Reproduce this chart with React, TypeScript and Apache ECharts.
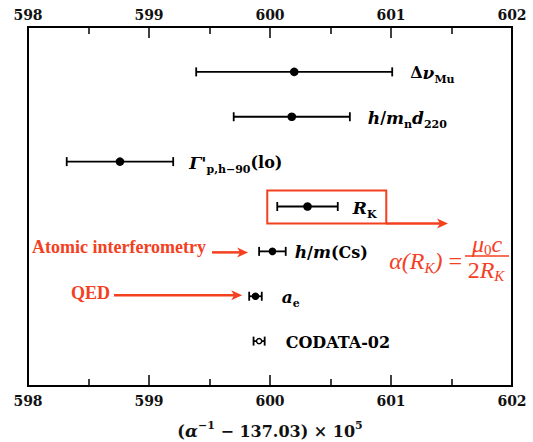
import React, { useEffect, useRef } from 'react';
import * as echarts from 'echarts';

// Determinations of the fine-structure constant, (α⁻¹ − 137.03) × 10⁵
const categories = ['Δν_Mu', 'h/m_n d220', "Γ'p,h-90(lo)", 'R_K', 'h/m(Cs)', 'a_e', 'CODATA-02'];
const centers = [600.2, 600.18, 598.76, 600.31, 600.02, 599.88, 599.91];
const uncertainties = [0.81, 0.48, 0.44, 0.25, 0.11, 0.052, 0.046];
const xTickValues = [598, 599, 600, 601, 602];

// Rich-text forms of the category labels
const labelTexts = [
  '{up|Δ}{it|ν}{sub|Mu}',
  '{it|h}{up|/}{it|m}{sub|n}{it|d}{sub|220}',
  "{it|Γ'}{sub|p,h−90}{up|(lo)}",
  '{it|R}{sub|K}',
  '{it|h}{up|/}{it|m}{up|(Cs)}',
  '{it|a}{sub|e}',
  '{up|CODATA-02}',
];

const RED = '#f4401f';
const SERIF = '"DejaVu Serif", serif';
const TIMES = '"Liberation Serif", serif';

const labelRich = {
  up: { fontFamily: SERIF, fontWeight: 'bold', fontSize: 16, lineHeight: 24, fill: '#000', color: '#000' },
  it: { fontFamily: SERIF, fontWeight: 'bold', fontStyle: 'italic', fontSize: 17, lineHeight: 24, fill: '#000', color: '#000' },
  sub: { fontFamily: SERIF, fontWeight: 'bold', fontSize: 11, lineHeight: 11, verticalAlign: 'bottom', fill: '#000', color: '#000' },
};

// gap between an error bar's right cap and its label
const labelGap = [18, 18, 16, 15, 9, 20, 21];

function arrow(x1: number, x2: number, y: number) {
  return {
    type: 'group',
    children: [
      { type: 'line', shape: { x1, y1: y, x2: x2 - 6, y2: y }, style: { stroke: RED, lineWidth: 2.5 } },
      {
        type: 'polygon',
        shape: { points: [[x2 - 11, y - 5], [x2, y], [x2 - 11, y + 5], [x2 - 8, y]] },
        style: { fill: RED },
      },
    ],
  };
}

export default function App() {
  const ref = useRef<HTMLDivElement>(null);

  useEffect(() => {
    document.body.style.margin = '0';
    const chart = echarts.init(ref.current!, null, { renderer: 'svg' });

    const data = categories.map((name, i) => [
      centers[i],
      i + 1,
      centers[i] - uncertainties[i],
      centers[i] + uncertainties[i],
      i,
    ]);

    const axisCommon = {
      type: 'value',
      min: xTickValues[0],
      max: xTickValues[xTickValues.length - 1],
      interval: 1,
      splitLine: { show: false },
      axisLine: { show: true, onZero: false, lineStyle: { color: '#000', width: 2 } },
      axisTick: { show: true, inside: true, length: 11, lineStyle: { color: '#000', width: 1.5 } },
      minorTick: { show: true, splitNumber: 2, length: 7, lineStyle: { color: '#000', width: 1.5 } },
      axisLabel: {
        fontFamily: SERIF,
        fontWeight: 'bold',
        fontSize: 14,
        color: '#111',
      },
    };

    chart.setOption({
      animation: false,
      backgroundColor: '#fff',
      grid: {
        left: 28,
        right: 21,
        top: 27,
        bottom: 56,
        containLabel: false,
        outerBoundsMode: 'none',
        show: true,
        borderColor: '#000',
        borderWidth: 2,
      },
      xAxis: [
        {
          ...axisCommon,
          position: 'bottom',
          axisLabel: { ...axisCommon.axisLabel, margin: 8 },
          name: '{p|(}{a|α}{sup|−1}{p| − 137.03) × 10}{sup|5}',
          nameLocation: 'middle',
          nameGap: 34,
          nameTextStyle: {
            rich: {
              p: { fontFamily: SERIF, fontWeight: 'bold', fontSize: 16, lineHeight: 22, color: '#111' },
              a: { fontFamily: SERIF, fontWeight: 'bold', fontStyle: 'italic', fontSize: 17, lineHeight: 22, color: '#111' },
              sup: { fontFamily: SERIF, fontWeight: 'bold', fontSize: 11, lineHeight: 11, verticalAlign: 'top', color: '#111' },
            },
          },
        },
        {
          ...axisCommon,
          position: 'top',
          axisLabel: { ...axisCommon.axisLabel, margin: 5 },
        },
      ],
      yAxis: {
        type: 'value',
        min: 0,
        max: 8,
        inverse: true,
        show: false,
      },
      series: [
        {
          type: 'custom',
          xAxisIndex: 0,
          yAxisIndex: 0,
          data,
          renderItem: (params: any, api: any) => {
            const idx = api.value(4);
            const yv = api.value(1);
            const c = api.coord([api.value(0), yv]);
            const lo = api.coord([api.value(2), yv]);
            const hi = api.coord([api.value(3), yv]);
            const open = categories[idx] === 'CODATA-02';
            const r = uncertainties[idx] < 0.2 ? 3.8 : 4.3;
            return {
              type: 'group',
              children: [
                { type: 'line', shape: { x1: lo[0], y1: c[1], x2: hi[0], y2: c[1] }, style: { stroke: '#000', lineWidth: 1.8 } },
                { type: 'line', shape: { x1: lo[0], y1: c[1] - 4.5, x2: lo[0], y2: c[1] + 4.5 }, style: { stroke: '#000', lineWidth: 1.8 } },
                { type: 'line', shape: { x1: hi[0], y1: c[1] - 4.5, x2: hi[0], y2: c[1] + 4.5 }, style: { stroke: '#000', lineWidth: 1.8 } },
                {
                  type: 'circle',
                  shape: { cx: c[0], cy: c[1], r: open ? 2.6 : r },
                  style: open ? { fill: '#fff', stroke: '#000', lineWidth: 1.4 } : { fill: '#000' },
                },
                {
                  type: 'text',
                  x: hi[0] + labelGap[idx],
                  y: c[1] + 1,
                  style: {
                    text: labelTexts[idx],
                    rich: labelRich,
                    align: 'left',
                    verticalAlign: 'middle',
                    fill: '#000',
                  },
                },
              ],
            };
          },
        },
      ],
    });

    // Annotations: box around the R_K result and the red call-outs
    const rkLo = chart.convertToPixel({ xAxisIndex: 0, yAxisIndex: 0 }, [centers[3] - uncertainties[3], 4]) as number[];
    const csLo = chart.convertToPixel({ xAxisIndex: 0, yAxisIndex: 0 }, [centers[4] - uncertainties[4], 5]) as number[];
    const aeLo = chart.convertToPixel({ xAxisIndex: 0, yAxisIndex: 0 }, [centers[5] - uncertainties[5], 6]) as number[];
    const boxX = rkLo[0] - 10;
    const boxW = 119;
    const boxTop = rkLo[1] - 16;
    const boxH = 33;

    chart.setOption({
      graphic: [
        {
          type: 'rect',
          shape: { x: boxX, y: boxTop, width: boxW, height: boxH },
          style: { fill: 'none', stroke: RED, lineWidth: 2 },
        },
        arrow(boxX + boxW, 448, boxTop + boxH),
        {
          type: 'text',
          x: 32,
          y: csLo[1] - 4,
          style: {
            text: 'Atomic interferometry',
            fill: RED,
            font: `bold 18px ${TIMES}`,
            align: 'left',
            verticalAlign: 'middle',
          },
        },
        arrow(212, csLo[0] - 11, csLo[1] + 1),
        {
          type: 'text',
          x: 71,
          y: aeLo[1] - 3,
          style: {
            text: 'QED',
            fill: RED,
            font: `bold 18px ${TIMES}`,
            align: 'left',
            verticalAlign: 'middle',
          },
        },
        arrow(114, aeLo[0] - 7, aeLo[1] - 1),
        // α(R_K) = μ0 c / 2R_K
        {
          type: 'text',
          x: 462,
          y: 261,
          style: {
            text: '{i|α(R}{s|K}{i|)}{u| =}',
            align: 'right',
            verticalAlign: 'middle',
            fill: RED,
            rich: {
              i: { fontFamily: TIMES, fontStyle: 'italic', fontSize: 24, lineHeight: 28, fill: RED, color: RED },
              u: { fontFamily: TIMES, fontSize: 24, lineHeight: 28, fill: RED, color: RED },
              s: { fontFamily: TIMES, fontStyle: 'italic', fontSize: 15, lineHeight: 15, verticalAlign: 'bottom', fill: RED, color: RED },
            },
          },
        },
        {
          type: 'text',
          x: 487,
          y: 244,
          style: {
            text: '{i|μ}{s|0}{i|c}',
            align: 'center',
            verticalAlign: 'middle',
            fill: RED,
            rich: {
              i: { fontFamily: TIMES, fontStyle: 'italic', fontSize: 24, lineHeight: 26, fill: RED, color: RED },
              s: { fontFamily: TIMES, fontSize: 15, lineHeight: 15, verticalAlign: 'bottom', fill: RED, color: RED },
            },
          },
        },
        {
          type: 'line',
          shape: { x1: 465, y1: 256, x2: 509, y2: 256 },
          style: { stroke: RED, lineWidth: 1.5 },
        },
        {
          type: 'text',
          x: 486,
          y: 270,
          style: {
            text: '{u|2}{i|R}{s|K}',
            align: 'center',
            verticalAlign: 'middle',
            fill: RED,
            rich: {
              u: { fontFamily: TIMES, fontSize: 24, lineHeight: 26, fill: RED, color: RED },
              i: { fontFamily: TIMES, fontStyle: 'italic', fontSize: 24, lineHeight: 26, fill: RED, color: RED },
              s: { fontFamily: TIMES, fontStyle: 'italic', fontSize: 15, lineHeight: 15, verticalAlign: 'bottom', fill: RED, color: RED },
            },
          },
        },
      ],
    });

    return () => chart.dispose();
  }, []);

  return <div ref={ref} style={{ width: 533, height: 442 }} />;
}
